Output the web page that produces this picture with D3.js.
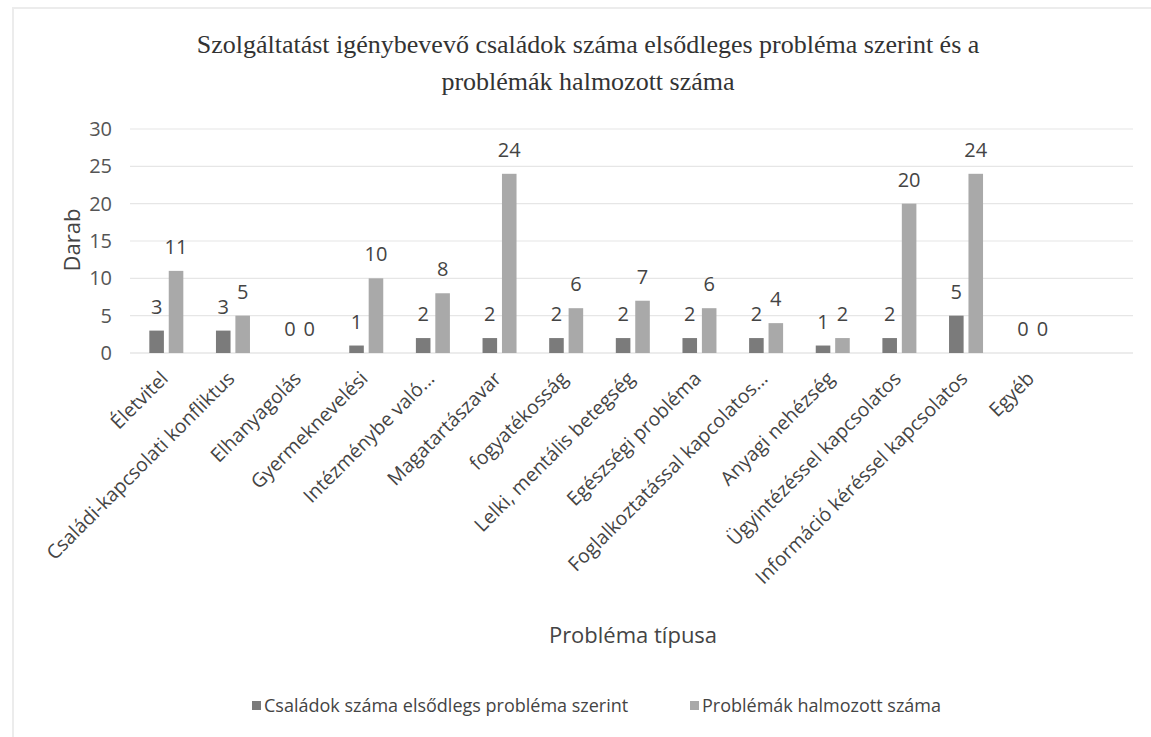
<!DOCTYPE html>
<html lang="hu">

<head>
  <meta charset="UTF-8" />
  <title>Problémák</title>
  <script src="https://d3js.org/d3.v7.js"></script>
  <style>
    body { margin: 0; background: #fff; }
    text { font-family: "Open Sans", sans-serif; }
  </style>
</head>

<body>
  <div id="graph-space"></div>
</body>
<script>
  // Data
  const categories = ["Életvitel", "Családi-kapcsolati konfliktus", "Elhanyagolás", "Gyermeknevelési",
    "Intézménybe való...", "Magatartászavar", "fogyatékosság", "Lelki, mentális betegség",
    "Egészségi probléma", "Foglalkoztatással kapcolatos...", "Anyagi nehézség",
    "Ügyintézéssel kapcsolatos", "Információ kéréssel kapcsolatos", "Egyéb"]
  const seriesNames = ["Családok száma elsődlegs probléma szerint", "Problémák halmozott száma"]
  const csaladok = [3, 3, 0, 1, 2, 2, 2, 2, 2, 2, 1, 2, 5, 0]
  const halmozott = [11, 5, 0, 10, 8, 24, 6, 7, 6, 4, 2, 20, 24, 0]
  const yTicks = [0, 5, 10, 15, 20, 25, 30]
  const titleLines = ["Szolgáltatást igénybevevő családok száma elsődleges probléma szerint és a",
    "problémák halmozott száma"]

  const width = 1151
  const height = 737
  const colors = ["#7b7b7b", "#a9a9a9"]

  const svg = d3.select("#graph-space")
    .append("svg")
    .attr("width", width)
    .attr("height", height)

  // faint page border from the scan
  svg.append("path")
    .attr("d", `M13,${height} L13,8 L${width},8`)
    .attr("fill", "none")
    .attr("stroke", "#ececec")
    .attr("stroke-width", 2)

  // title
  svg.append("g").selectAll("text")
    .data(titleLines)
    .join("text")
    .attr("x", 588)
    .attr("y", (d, i) => 53 + i * 37)
    .attr("text-anchor", "middle")
    .style("font-family", "'Liberation Serif', serif")
    .style("font-size", "26px")
    .style("font-weight", "normal")
    .attr("fill", "#333")
    .text(d => d)

  const xScale = d3.scaleBand()
    .domain(categories)
    .range([133, 1066])

  const xInner = d3.scaleBand()
    .domain([0, 1])
    .range([xScale.bandwidth() / 2 - 17, xScale.bandwidth() / 2 + 17])
    .paddingInner(0.25)

  const yScale = d3.scaleLinear()
    .domain([0, 30])
    .range([353, 129])

  // gridlines
  svg.append("g").selectAll("line")
    .data(yTicks)
    .join("line")
    .attr("x1", 130)
    .attr("x2", 1133)
    .attr("y1", d => yScale(d))
    .attr("y2", d => yScale(d))
    .attr("stroke", d => d === 0 ? "#d9d9d9" : "#e6e6e6")
    .attr("stroke-width", 1.2)

  // y axis labels
  const yAxis = svg.append("g")
    .attr("transform", "translate(112,0)")
    .call(d3.axisLeft(yScale).tickValues(yTicks).tickSize(0).tickPadding(0))
  yAxis.select(".domain").remove()
  yAxis.selectAll("text")
    .style("font-size", "20px")
    .style("font-family", "'Open Sans', sans-serif")
    .attr("fill", "#555")

  svg.append("text")
    .attr("transform", "translate(72,240) rotate(-90)")
    .attr("text-anchor", "middle")
    .attr("dy", "0.35em")
    .style("font-size", "22px")
    .attr("fill", "#444")
    .text("Darab")

  // bars
  const rows = categories.map((c, i) => ({ cat: c, values: [csaladok[i], halmozott[i]] }))
  const groups = svg.append("g").selectAll("g")
    .data(rows)
    .join("g")
    .attr("transform", d => `translate(${xScale(d.cat)},0)`)

  groups.selectAll("rect")
    .data(d => d.values.map((v, k) => ({ k: k, v: v })))
    .join("rect")
    .attr("x", d => xInner(d.k))
    .attr("y", d => yScale(d.v))
    .attr("width", xInner.bandwidth())
    .attr("height", d => yScale(0) - yScale(d.v))
    .attr("fill", d => colors[d.k])

  groups.selectAll("text")
    .data(d => d.values.map((v, k) => ({ k: k, v: v })))
    .join("text")
    .attr("x", d => xInner(d.k) + xInner.bandwidth() / 2)
    .attr("y", d => yScale(d.v) - 17)
    .attr("text-anchor", "middle")
    .style("font-size", "20px")
    .attr("fill", "#444")
    .text(d => d.v)

  // x axis category labels
  const xAxis = svg.append("g")
    .attr("transform", "translate(0,366)")
    .call(d3.axisBottom(xScale).tickSize(0).tickPadding(0))
  xAxis.select(".domain").remove()
  xAxis.selectAll("text")
    .attr("transform", "translate(-2,9) rotate(-45)")
    .attr("text-anchor", "end")
    .attr("dy", "0.35em")
    .attr("y", 0)
    .style("font-size", "19.5px")
    .style("font-family", "'Open Sans', sans-serif")
    .attr("fill", "#444")

  svg.append("text")
    .attr("x", 633)
    .attr("y", 643)
    .attr("text-anchor", "middle")
    .style("font-size", "22px")
    .attr("fill", "#444")
    .text("Probléma típusa")

  // legend
  const legendX = [252, 690]
  const legend = svg.append("g").selectAll("g")
    .data(seriesNames)
    .join("g")
    .attr("transform", (d, i) => `translate(${legendX[i]},706)`)
  legend.append("rect")
    .attr("x", 0)
    .attr("y", -5)
    .attr("width", 9)
    .attr("height", 9)
    .attr("fill", (d, i) => colors[i])
  legend.append("text")
    .attr("x", 12)
    .attr("y", 0)
    .attr("dy", "0.35em")
    .style("font-size", "18px")
    .attr("fill", "#444")
    .text(d => d)
</script>

</html>
